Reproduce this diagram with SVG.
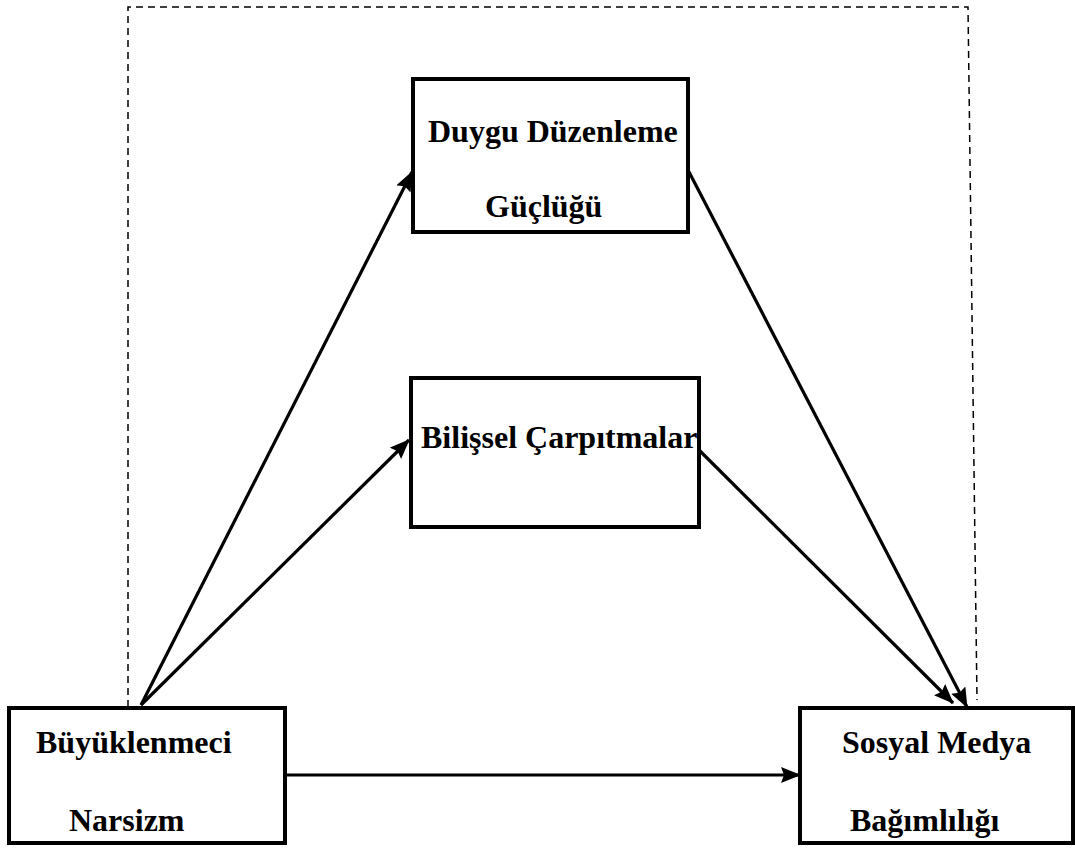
<svg xmlns="http://www.w3.org/2000/svg" width="1075" height="848" viewBox="0 0 1075 848">
<style>
.box{fill:#fff;stroke:#000;stroke-width:4}
.t{font-family:"Liberation Serif",serif;font-weight:bold;font-size:32px;fill:#000}
.c{stroke:#000;stroke-width:3.2;fill:none}
.d{stroke:#000;stroke-width:1.5;fill:none;stroke-dasharray:7,5}
</style>
<defs>
<marker id="ah" markerWidth="20" markerHeight="16" refX="19" refY="8" orient="auto" markerUnits="userSpaceOnUse">
<path d="M0,0 L20,8 L0,16 L3,8 Z" fill="#000"/>
</marker>
</defs>
<g id="frame">
<path class="d" d="M128,707 L128,7 L968,7 L977,700"/>
</g>
<g id="connectors">
<line class="c" x1="141" y1="705" x2="412" y2="172" marker-end="url(#ah)"/>
<line class="c" x1="141" y1="705" x2="409" y2="440" marker-end="url(#ah)"/>
<line class="c" x1="688" y1="170" x2="967" y2="707" marker-end="url(#ah)"/>
<line class="c" x1="699" y1="450" x2="953" y2="703" marker-end="url(#ah)"/>
<line class="c" x1="285" y1="775" x2="800" y2="775" marker-end="url(#ah)"/>
</g>
<g id="n1">
<rect class="box" x="9" y="708" width="276" height="135"/>
<text class="t" x="36" y="753">Büyüklenmeci</text>
<text class="t" x="69" y="831">Narsizm</text>
</g>
<g id="n2">
<rect class="box" x="413" y="79" width="275" height="153"/>
<text class="t" x="428" y="142">Duygu Düzenleme</text>
<text class="t" x="485" y="217">Güçlüğü</text>
</g>
<g id="n3">
<rect class="box" x="411" y="378" width="288" height="149"/>
<text class="t" x="421" y="448">Bilişsel Çarpıtmalar</text>
</g>
<g id="n4">
<rect class="box" x="800" y="708" width="273" height="135"/>
<text class="t" x="842" y="753">Sosyal Medya</text>
<text class="t" x="850" y="831">Bağımlılığı</text>
</g>
</svg>
